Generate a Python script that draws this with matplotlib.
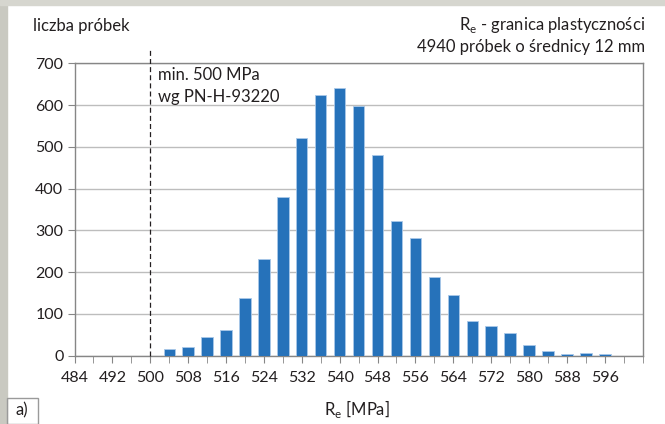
import numpy as np
import matplotlib
matplotlib.use("Agg")
import matplotlib.pyplot as plt
from matplotlib.patches import Rectangle

# histogram of yield strength, class centres every 4 MPa
re_class = [504, 508, 512, 516, 520, 524, 528, 532, 536, 540, 544, 548,
            552, 556, 560, 564, 568, 572, 576, 580, 584, 588, 592, 596]
counts = [15, 20, 45, 62, 138, 230, 379, 522, 625, 640, 598, 480,
          322, 281, 187, 146, 82, 70, 53, 25, 11, 3, 5, 4]
x_labels = list(range(484, 597, 8))
y_ticks = list(range(0, 701, 100))

plt.rcParams['font.family'] = ['Lato', 'DejaVu Sans']
W, H = 665, 424
fig = plt.figure(figsize=(W / 100, H / 100), dpi=100)

def fx(px):
    return px / W

def fy(py):
    return 1 - py / H

txt = dict(fontsize=12, color='#231f20', va='center')

# page frame (grey border on left/top, "a)" box)
fig.patches.append(Rectangle((0, 0), fx(7), 1, transform=fig.transFigure,
                             color='#c9c9c1', zorder=0))
fig.patches.append(Rectangle((0, fy(5)), 1, 5 / H, transform=fig.transFigure,
                             color='#d6d6cf', zorder=0))
fig.patches.append(Rectangle((fx(7), 0), fx(31), fy(398), transform=fig.transFigure,
                             fill=False, ec='#9a9a9a', lw=1, zorder=1))

ax = fig.add_axes([fx(74.5), fy(355.5), fx(642.7 - 74.5), (355.5 - 63.3) / H])
ax.bar(re_class, counts, width=2.4, color='#2672ba', edgecolor='#a9c8e8',
       linewidth=0.6, zorder=3)
ax.set_xlim(484, 604)
ax.set_ylim(0, 700)
ax.set_yticks(y_ticks)
ax.set_xticks(np.arange(484, 605, 4), minor=True)
ax.set_xticks(x_labels)
ax.yaxis.grid(True, color='#bdbdbd', lw=1, zorder=0)
for s in ax.spines.values():
    s.set_color('#868686')
    s.set_linewidth(1)
ax.tick_params(axis='both', which='both', color='#868686', labelsize=11.5,
               labelcolor='#231f20', length=5, pad=3)
ax.tick_params(axis='x', which='major', pad=6)

# limit line 500 MPa
ax.axvline(500, ymin=0, ymax=(355.5 - 48) / (355.5 - 63.3), color='#231f20',
           lw=0.9, ls=(0, (4, 2.5)), clip_on=False, zorder=4)

fig.text(fx(33), fy(26), 'liczba próbek', ha='left', **txt)
fig.text(fx(645), fy(25), r'R$_\mathregular{e}$ - granica plastyczności',
         ha='right', **txt)
fig.text(fx(645), fy(47), '4940 próbek o średnicy 12 mm', ha='right', **txt)
fig.text(fx(158), fy(75), 'min. 500 MPa', ha='left', **txt)
fig.text(fx(158), fy(97), 'wg PN-H-93220', ha='left', **txt)
fig.text(fx(357), fy(409), r'R$_\mathregular{e}$ [MPa]', ha='center', **txt)
fig.text(fx(22), fy(410), 'a)', ha='center', **txt)

fig.savefig('out.png', dpi=100)
